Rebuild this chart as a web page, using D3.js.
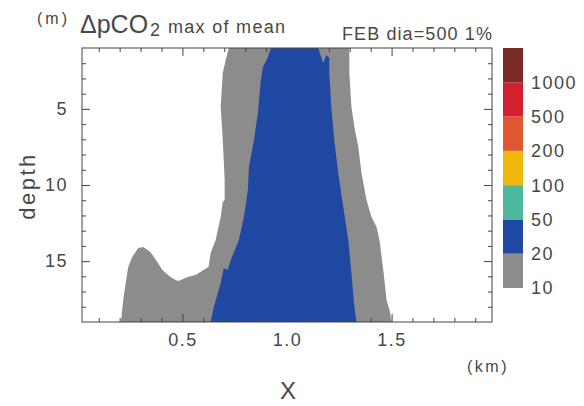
<!DOCTYPE html>
<html>
<head>
<meta charset="utf-8">
<script src="https://cdn.jsdelivr.net/npm/d3@7"></script>
<style>
  body { margin: 0; background: #fff; }
  text { font-family: "Liberation Sans", Arial, sans-serif; fill: #484848; }
</style>
</head>
<body>
<svg id="chart" width="584" height="406"></svg>
<script>
// Axis ticks
const xTicks = [0.5, 1.0, 1.5];
const depthTicks = [5, 10, 15];
const xMinorTicks = [0.1, 0.2, 0.3, 0.4, 0.6, 0.7, 0.8, 0.9, 1.1, 1.2, 1.3, 1.4, 1.6, 1.7, 1.8, 1.9];
const depthMinorTicks = [2, 3, 4, 6, 7, 8, 9, 11, 12, 13, 14, 16, 17, 18];

// Contour levels of the colour key and their fills
const levels = [10, 20, 50, 100, 200, 500, 1000];
const levelColors = ["#8c8c8c", "#1f48a3", "#4db89b", "#efb80c", "#e0582f", "#d3202f", "#7a2b27"];

// Outline of the >=10 region, [x (km), depth (m)]
const band10 = [
  [0.722, 1.00], [0.707, 1.79], [0.693, 2.64], [0.683, 4.88], [0.693, 7.04],
  [0.702, 9.67], [0.702, 10.99], [0.693, 11.12], [0.683, 12.10], [0.659, 13.61],
  [0.635, 14.47], [0.625, 15.39], [0.601, 15.59], [0.563, 15.91], [0.525, 16.04],
  [0.481, 16.31], [0.467, 16.24], [0.443, 16.04], [0.404, 15.59], [0.380, 15.06],
  [0.347, 14.40], [0.313, 14.07], [0.289, 14.14], [0.260, 14.73], [0.241, 15.39],
  [0.231, 16.24], [0.217, 17.56], [0.207, 18.87], [0.207, 19.00],
  [1.500, 19.00], [1.490, 18.21], [1.476, 17.56], [1.462, 15.78], [1.442, 13.61],
  [1.428, 12.76], [1.404, 12.10], [1.380, 10.99], [1.356, 9.21], [1.341, 7.50],
  [1.322, 6.19], [1.308, 4.88], [1.298, 2.64], [1.298, 1.00]
];

// Outline of the >=20 region
const band20 = [
  [0.923, 1.00], [0.909, 1.59], [0.885, 2.25], [0.875, 3.10], [0.861, 5.27],
  [0.842, 7.04], [0.818, 8.82], [0.813, 10.33], [0.794, 12.10], [0.770, 13.61],
  [0.731, 14.93], [0.717, 15.59], [0.698, 15.46], [0.683, 16.44], [0.650, 18.02],
  [0.635, 19.00],
  [1.332, 19.00], [1.322, 18.02], [1.308, 15.78], [1.293, 13.61], [1.269, 11.45],
  [1.245, 9.21], [1.226, 7.04], [1.212, 4.88], [1.202, 2.64], [1.202, 1.66],
  [1.188, 1.46], [1.173, 1.99], [1.149, 1.00]
];

const svg = d3.select("#chart");
const plot = { left: 82, right: 492, top: 48, bottom: 322 };

const x = d3.scaleLinear().domain([0.02, 1.98]).range([plot.left, plot.right]);
const y = d3.scaleLinear().domain([1, 19]).range([plot.top, plot.bottom]);

svg.append("clipPath").attr("id", "plotClip")
  .append("rect")
  .attr("x", plot.left).attr("y", plot.top)
  .attr("width", plot.right - plot.left).attr("height", plot.bottom - plot.top);

const area = svg.append("g").attr("clip-path", "url(#plotClip)");
const outline = d3.line().x(d => x(d[0])).y(d => y(d[1]));

area.append("path").attr("d", outline(band10) + "Z").attr("fill", levelColors[0]);
area.append("path").attr("d", outline(band20) + "Z").attr("fill", levelColors[1]);

// Axes: ticks point inward on all four sides
function styleAxis(g) {
  g.select(".domain").remove();
  g.selectAll(".tick line").attr("stroke", "#444");
  g.selectAll("text")
    .style("font-family", "'Liberation Sans', Arial, sans-serif")
    .style("font-size", "18px")
    .style("letter-spacing", "1.5px")
    .attr("fill", "#484848");
}

svg.append("g").attr("transform", `translate(0,${plot.bottom})`)
  .call(d3.axisBottom(x).tickValues(xTicks).tickFormat(d3.format(".1f"))
    .tickSizeInner(-8).tickSizeOuter(0).tickPadding(11))
  .call(styleAxis);
svg.append("g").attr("transform", `translate(0,${plot.bottom})`)
  .call(d3.axisBottom(x).tickValues(xMinorTicks).tickFormat("").tickSizeInner(-4).tickSizeOuter(0))
  .call(styleAxis);
svg.append("g").attr("transform", `translate(0,${plot.top})`)
  .call(d3.axisTop(x).tickValues(xTicks).tickFormat("").tickSizeInner(-8).tickSizeOuter(0))
  .call(styleAxis);
svg.append("g").attr("transform", `translate(0,${plot.top})`)
  .call(d3.axisTop(x).tickValues(xMinorTicks).tickFormat("").tickSizeInner(-4).tickSizeOuter(0))
  .call(styleAxis);

svg.append("g").attr("transform", `translate(${plot.left},0)`)
  .call(d3.axisLeft(y).tickValues(depthTicks).tickFormat(d3.format("d"))
    .tickSizeInner(-8).tickSizeOuter(0).tickPadding(14))
  .call(styleAxis);
svg.append("g").attr("transform", `translate(${plot.left},0)`)
  .call(d3.axisLeft(y).tickValues(depthMinorTicks).tickFormat("").tickSizeInner(-4).tickSizeOuter(0))
  .call(styleAxis);
svg.append("g").attr("transform", `translate(${plot.right},0)`)
  .call(d3.axisRight(y).tickValues(depthTicks).tickFormat("").tickSizeInner(-8).tickSizeOuter(0))
  .call(styleAxis);
svg.append("g").attr("transform", `translate(${plot.right},0)`)
  .call(d3.axisRight(y).tickValues(depthMinorTicks).tickFormat("").tickSizeInner(-4).tickSizeOuter(0))
  .call(styleAxis);

svg.append("rect")
  .attr("x", plot.left).attr("y", plot.top)
  .attr("width", plot.right - plot.left).attr("height", plot.bottom - plot.top)
  .attr("fill", "none").attr("stroke", "#444").attr("stroke-width", 1);

// Colour key
const key = { left: 503, width: 20, top: 48, bottom: 288 };
const keyY = d3.scaleLinear().domain([0, levels.length]).range([key.bottom, key.top]);
svg.append("g").selectAll("rect")
  .data(levelColors)
  .join("rect")
  .attr("x", key.left)
  .attr("y", (d, i) => keyY(i + 1))
  .attr("width", key.width)
  .attr("height", (d, i) => keyY(i) - keyY(i + 1))
  .attr("fill", d => d);

svg.append("g").selectAll("text")
  .data(levels)
  .join("text")
  .attr("x", 531)
  .attr("y", (d, i) => keyY(i))
  .attr("dy", "0.36em")
  .style("font-size", "18px")
  .style("letter-spacing", "1.5px")
  .text(d => d);

// Titles and axis names
svg.append("text").attr("x", 37).attr("y", 24)
  .style("font-size", "16px").style("letter-spacing", "3px").text("(m)");
svg.append("text").attr("x", 80).attr("y", 33)
  .style("font-size", "25px").text("ΔpCO");
svg.append("text").attr("x", 150).attr("y", 36)
  .style("font-size", "18px").text("2");
svg.append("text").attr("x", 168).attr("y", 33)
  .style("font-size", "18px").style("letter-spacing", "1.3px").text("max of mean");
svg.append("text").attr("x", 342).attr("y", 40)
  .style("font-size", "18px").style("letter-spacing", "1.1px").text("FEB dia=500 1%");

svg.append("text").attr("x", 467).attr("y", 372)
  .style("font-size", "16px").style("letter-spacing", "2.5px").text("(km)");
svg.append("text").attr("x", 288).attr("y", 399).attr("text-anchor", "middle")
  .style("font-size", "24px").text("X");
svg.append("text")
  .attr("transform", "translate(35,186) rotate(-90)")
  .attr("text-anchor", "middle")
  .style("font-size", "22px").style("letter-spacing", "2.5px").text("depth");
</script>
</body>
</html>
